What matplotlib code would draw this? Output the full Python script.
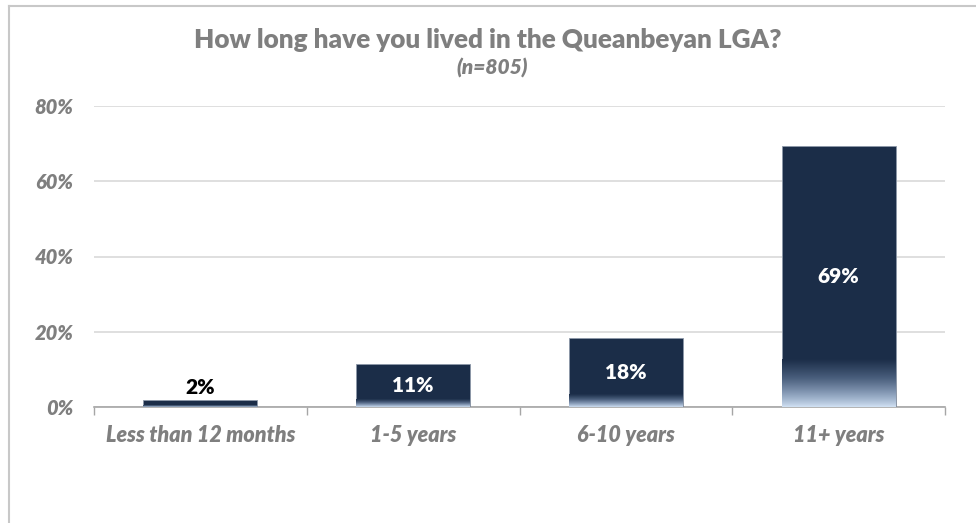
import numpy as np
import matplotlib
matplotlib.use("Agg")
import matplotlib.pyplot as plt
from matplotlib.colors import LinearSegmentedColormap
from matplotlib.lines import Line2D

categories = ["Less than 12 months", "1-5 years", "6-10 years", "11+ years"]
values = [1.8, 11.3, 18.4, 69.4]
yticks = [0, 20, 40, 60, 80]
title = "How long have you lived in the Queanbeyan LGA?"
subtitle = "(n=805)"

W, H = 976, 523
fig = plt.figure(figsize=(W / 100, H / 100), dpi=100)
fig.patch.set_facecolor("white")

FONT = "Lato"
GRAY = "#7F7F7F"
NAVY = "#1B2D48"
WT = 800

ax = fig.add_axes([94 / W, 1 - 407 / H, (945 - 94) / W, (407 - 106) / H])
ax.set_xlim(-0.5, len(categories) - 0.5)
ax.set_ylim(0, 80)

x = np.arange(len(categories))
bw = 0.535
bars = ax.bar(x, values, width=bw, color=NAVY, edgecolor="#8C98A8", linewidth=0.6, zorder=3)

cmap = LinearSegmentedColormap.from_list("g", ["#D4E4F6", "#8FA3BE", "#4A5F7D", NAVY])
grad = np.linspace(0, 1, 256).reshape(-1, 1)
for b, v in zip(bars, values):
    x0 = b.get_x()
    h = b.get_height()
    gh = h * 0.18
    g = grad ** 0.8
    im = ax.imshow(g, cmap=cmap, extent=[x0, x0 + bw, 0, gh], origin="lower",
                   aspect="auto", zorder=3.5, interpolation="bicubic")
    im.set_clip_path(b)

for xi, v in zip(x, values):
    lab = f"{int(round(v))}%"
    if v < 5:
        ax.text(xi, v + 0.9, lab, ha="center", va="bottom", fontsize=15,
                fontweight=WT, color="black", family=FONT, zorder=5)
    else:
        ax.text(xi, v / 2, lab, ha="center", va="center", fontsize=15,
                fontweight=WT, color="white", family=FONT, zorder=5)

ax.set_yticks(yticks)
ax.set_yticklabels([f"{t}%" for t in yticks])
for t in ax.get_yticklabels():
    t.set_fontsize(14.5)
    t.set_fontstyle("italic")
    t.set_fontweight(WT)
    t.set_color(GRAY)
    t.set_family(FONT)
ax.yaxis.grid(True, color="#D9D9D9", linewidth=1.2, zorder=0)
ax.set_axisbelow(True)
ax.tick_params(axis="y", length=0, pad=15)

ax.set_xticks(x)
ax.set_xticklabels(categories)
for t in ax.get_xticklabels():
    t.set_fontsize(15.5)
    t.set_fontstyle("italic")
    t.set_fontweight(WT)
    t.set_color(GRAY)
    t.set_family(FONT)
ax.tick_params(axis="x", length=0, pad=13)
ax.set_xticks(np.arange(-0.5, len(categories), 1.0), minor=True)
ax.tick_params(axis="x", which="minor", length=6, color="#A6A6A6", width=1)

for s in ["top", "right", "left"]:
    ax.spines[s].set_visible(False)
ax.spines["bottom"].set_color("#A6A6A6")
ax.spines["bottom"].set_linewidth(1.2)

fig.text(488 / W, 1 - 40 / H, title, ha="center", va="center", fontsize=18.8,
         fontweight=WT, color=GRAY, family=FONT)
fig.text(492 / W, 1 - 68 / H, subtitle, ha="center", va="center", fontsize=15,
         fontweight=WT, fontstyle="italic", color=GRAY, family=FONT)

fig.add_artist(Line2D([8.5 / W, 1], [1 - 5.5 / H, 1 - 5.5 / H], color="#C8C8C8", linewidth=1.5,
                      transform=fig.transFigure))
fig.add_artist(Line2D([8.5 / W, 8.5 / W], [0, 1 - 5.5 / H], color="#C8C8C8", linewidth=1.5,
                      transform=fig.transFigure))

fig.savefig("out.png", dpi=100, facecolor="white")
